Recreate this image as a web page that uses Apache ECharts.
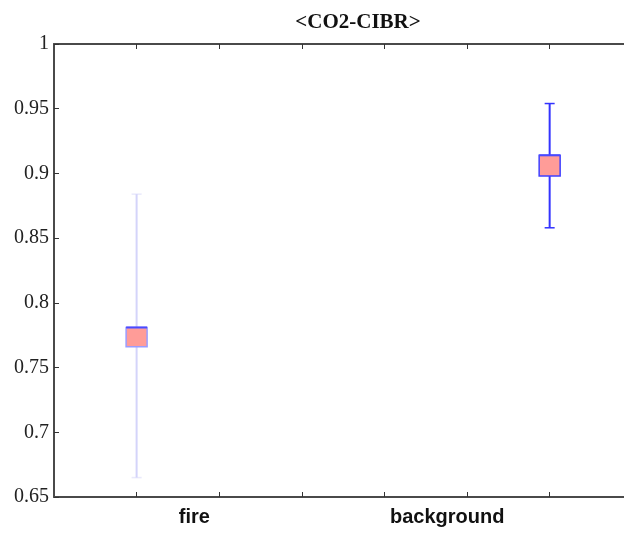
<!DOCTYPE html>
<html>
<head>
<meta charset="utf-8">
<script src="https://cdn.jsdelivr.net/npm/echarts@6/dist/echarts.min.js"></script>
<style>
  html, body { margin: 0; padding: 0; background: #fff; }
  #main { width: 624px; height: 536px; }
</style>
</head>
<body>
<div id="main"></div>
<script>
// 数据
const categories = ['fire', 'background'];
const lowerWhisker = [0.665, 0.858];
const q1 = [0.766, 0.898];
const median = [0.781, 0.914];
const q3 = [0.781, 0.914];
const upperWhisker = [0.884, 0.954];
const yTicks = [0.65, 0.7, 0.75, 0.8, 0.85, 0.9, 0.95, 1];

// 箱子所在的 x 位置，以及标签的位置（原图标签没有对齐箱子）
const boxAt = [1, 6];
const labelAt = [1.70, 4.76];

const whiskerColor = ['#d4d4fa', '#3333ff'];
const boxBorder = ['#9a9cff', '#4040ff'];

const myChart = echarts.init(document.getElementById('main'));

const axisLineStyle = { color: '#4a4a4a', width: 2 };
const xTicks = [1, 2, 3, 4, 5, 6];

myChart.setOption({
    animation: false,
    title: {
        text: '<CO2-CIBR>',
        left: 353,
        textAlign: 'center',
        top: 7,
        textStyle: {
            fontFamily: 'Liberation Serif',
            fontWeight: 'bold',
            fontSize: 21,
            color: '#111'
        }
    },
    grid: { left: 54, right: 0, top: 44, bottom: 39 },
    xAxis: [
        {
            type: 'value',
            min: 0,
            max: 6.9,
            interval: 1,
            position: 'bottom',
            splitLine: { show: false },
            axisLine: { lineStyle: axisLineStyle },
            axisTick: { inside: true, length: 5, customValues: xTicks, lineStyle: { color: '#333' } },
            axisLabel: {
                customValues: labelAt,
                formatter: (v) => {
                    const i = labelAt.findIndex(p => Math.abs(p - v) < 1e-6);
                    return i >= 0 ? categories[i] : '';
                },
                margin: 10,
                fontFamily: 'Liberation Sans',
                fontWeight: 'bold',
                fontSize: 20,
                color: '#111'
            }
        },
        {
            type: 'value',
            min: 0,
            max: 6.9,
            interval: 1,
            position: 'top',
            splitLine: { show: false },
            axisLine: { lineStyle: axisLineStyle },
            axisTick: { inside: true, length: 5, customValues: xTicks, lineStyle: { color: '#333' } },
            axisLabel: { show: false }
        }
    ],
    yAxis: {
        type: 'value',
        min: 0.65,
        max: 1,
        interval: 0.05,
        splitLine: { show: false },
        axisLine: { show: true, lineStyle: axisLineStyle },
        axisTick: { show: true, inside: true, length: 5, customValues: yTicks, lineStyle: { color: '#333' } },
        axisLabel: {
            margin: 5,
            fontFamily: 'Liberation Serif',
            fontSize: 20,
            color: '#222',
            formatter: (v) => String(+v.toFixed(2))
        }
    },
    series: [
        {
            type: 'custom',
            xAxisIndex: 0,
            data: categories.map((c, i) => [boxAt[i], lowerWhisker[i], q1[i], median[i], q3[i], upperWhisker[i]]),
            renderItem: (params, api) => {
                const i = params.dataIndex;
                const x = api.value(0);
                const lo = api.coord([x, api.value(1)]);
                const b1 = api.coord([x, api.value(2)]);
                const md = api.coord([x, api.value(3)]);
                const b3 = api.coord([x, api.value(4)]);
                const hi = api.coord([x, api.value(5)]);
                const cx = lo[0];
                const bw = 21;
                const cap = 5;
                const wStyle = { stroke: whiskerColor[i], lineWidth: 2 };
                return {
                    type: 'group',
                    children: [
                        { type: 'line', shape: { x1: cx, y1: hi[1], x2: cx, y2: b3[1] }, style: wStyle },
                        { type: 'line', shape: { x1: cx, y1: b1[1], x2: cx, y2: lo[1] }, style: wStyle },
                        { type: 'line', shape: { x1: cx - cap, y1: hi[1], x2: cx + cap, y2: hi[1] }, style: { stroke: whiskerColor[i], lineWidth: 1.5, opacity: i === 0 ? 0.5 : 1 } },
                        { type: 'line', shape: { x1: cx - cap, y1: lo[1], x2: cx + cap, y2: lo[1] }, style: { stroke: whiskerColor[i], lineWidth: 1.5, opacity: i === 0 ? 0.5 : 1 } },
                        {
                            type: 'rect',
                            shape: { x: cx - bw / 2, y: b3[1], width: bw, height: b1[1] - b3[1] },
                            style: { fill: '#ff9c98', stroke: boxBorder[i], lineWidth: 1.5 }
                        },
                        { type: 'line', shape: { x1: cx - bw / 2, y1: md[1], x2: cx + bw / 2, y2: md[1] }, style: { stroke: '#4a4aff', lineWidth: 2 } }
                    ]
                };
            }
        }
    ]
});
</script>
</body>
</html>
